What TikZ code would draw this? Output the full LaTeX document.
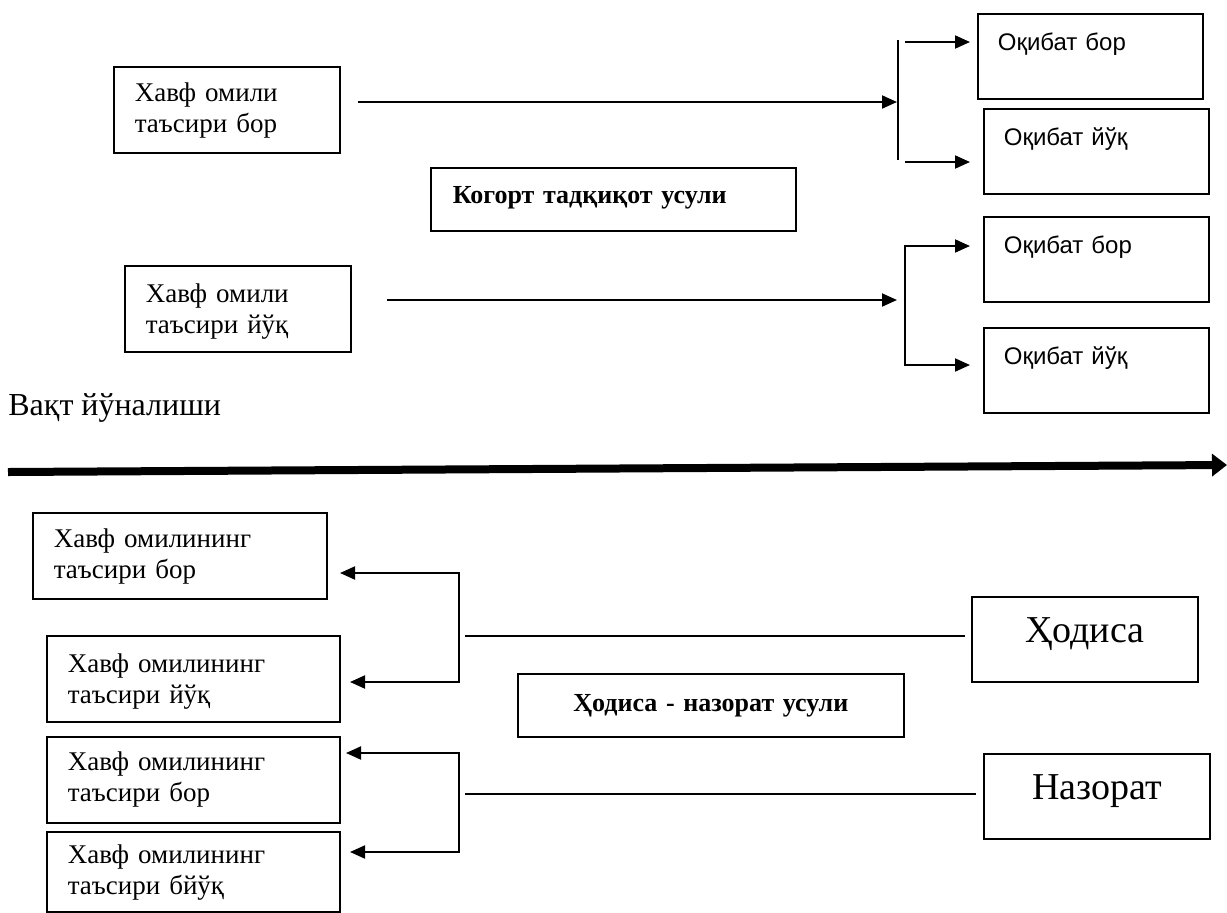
\documentclass[tikz,border=0pt]{standalone}
\usepackage{fontspec}
\setmainfont{Liberation Serif}
\newfontfamily\arialfont{Liberation Sans}
\usetikzlibrary{arrows.meta,positioning,calc}

\tikzset{
    riskbox/.style={draw, line width=0.85pt, anchor=north west, inner xsep=10.5pt, inner ysep=0pt,
        text width=#1, align=left, text height=17.5pt, text depth=25.5pt,
        font=\fontsize{13.5}{15.5}\selectfont},
    outbox/.style={draw, line width=0.85pt, anchor=north west, inner xsep=10pt, inner ysep=0pt,
        text width=92.5pt, align=left, text height=18.5pt, text depth=24pt,
        font=\arialfont\fontsize{12}{14}\selectfont},
    boldbox/.style={draw, line width=0.85pt, anchor=north west, inner ysep=0pt,
        font=\bfseries\fontsize{13}{15}\selectfont},
    bigbox/.style={draw, line width=0.85pt, anchor=north west, inner sep=0pt,
        minimum width=113pt, text height=23pt, text depth=19.5pt,
        font=\fontsize{19}{22}\selectfont},
    conn/.style={line width=1pt, -{Triangle[length=7.5pt,width=6.5pt]}},
    fork/.style={line width=1pt, {Triangle[length=7.5pt,width=6.5pt]}-{Triangle[length=7.5pt,width=6.5pt]}},
    plain/.style={line width=0.7pt}
}

\begin{document}
\begin{tikzpicture}[x=0.5pt,y=-0.5pt]
    \useasboundingbox (0,0) rectangle (1227,912);

    % Cohort part
    \node[riskbox=92pt] (risk1) at (113,66) {Хавф омили\\таъсири бор};
    \node[riskbox=92pt, text height=18.5pt, text depth=24.5pt] (risk2) at (124,265) {Хавф омили\\таъсири йўқ};

    \node[boldbox, inner xsep=11pt, text width=160.5pt, align=left, text height=18pt, text depth=13.5pt] (cohort) at (430,167) {Когорт тадқиқот усули};

    \foreach \i/\x/\y/\t in {1/977/13/{Оқибат бор}, 2/983/108/{Оқибат йўқ}, 3/983/216/{Оқибат бор}, 4/983/327/{Оқибат йўқ}}
        \node[outbox] (out\i) at (\x,\y) {\t};

    % Arrows of the cohort part
    \coordinate (c1) at (358,102);
    \coordinate (f1) at (897,102);
    \draw[conn] (c1) -- (f1);
    \draw[line width=1pt] (898,40) -- (898,160);
    \draw[conn] (905,42) -- (970,42);
    \draw[conn] (905,162) -- (970,162);

    \coordinate (c2) at (387,300);
    \coordinate (f2) at (897,300);
    \draw[conn] (c2) -- (f2);
    \draw[fork] (970,246) -- (905,246) -- (905,365) -- (970,365);

    % Time axis
    \node[anchor=base west, inner sep=0pt, font=\fontsize{16}{19}\selectfont] (time) at (8,415) {Вақт йўналиши};
    \coordinate (t0) at (8,472);
    \coordinate (t1) at (1227,465);
    \draw[line width=4pt, -{Triangle[length=7.5pt,width=11pt]}] (t0) -- (t1);

    % Case-control part
    \node[riskbox=126pt] (exp1) at (32,512) {Хавф омилининг\\таъсири бор};
    \node[riskbox=125.5pt, text height=18.5pt, text depth=24.5pt] (exp2) at (46,635) {Хавф омилининг\\таъсири йўқ};
    \node[riskbox=125.5pt, text height=17pt, text depth=26pt] (exp3) at (46,736) {Хавф омилининг\\таъсири бор};
    \node[riskbox=125.5pt, text height=16pt, text depth=24pt] (exp4) at (46,831) {Хавф омилининг\\таъсири бйўқ};

    \node[boldbox, inner xsep=0pt, text width=193pt, align=center, text height=19pt, text depth=12.5pt] (casectl) at (517,673) {Ҳодиса - назорат усули};

    \node[bigbox] (hodisa) at (971,596) {Ҳодиса};
    \node[bigbox] (nazorat) at (983,753) {Назорат};

    % Arrows of the case-control part
    \draw[fork] (340,573) -- (459,573) -- (459,682) -- (350,682);
    \coordinate (h1) at (465,636);
    \draw[plain, shorten >=3pt] (h1) -- (h1 -| hodisa.west);

    \draw[fork] (346,753) -- (459,753) -- (459,852) -- (350,852);
    \coordinate (n1) at (465,794);
    \draw[plain, shorten >=3.5pt] (n1) -- (n1 -| nazorat.west);

\end{tikzpicture}
\end{document}
